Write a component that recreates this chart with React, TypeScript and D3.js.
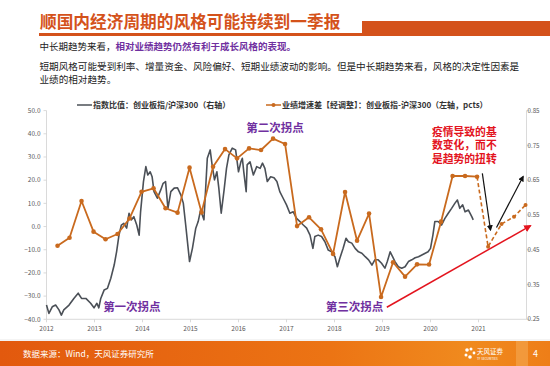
import React from 'react';
import * as d3 from 'd3';

const years = [2012, 2013, 2014, 2015, 2016, 2017, 2018, 2019, 2020, 2021];
const leftTicks = [50, 40, 30, 20, 10, 0, -10, -20, -30, -40];
const rightTicks = [0.85, 0.75, 0.65, 0.55, 0.45, 0.35, 0.25];

// 业绩增速差 (left axis, pcts), quarterly
const growthTimes = [
  2012.23, 2012.48, 2012.73, 2012.98, 2013.23, 2013.48, 2013.73, 2013.98,
  2014.23, 2014.48, 2014.73, 2014.98, 2015.23, 2015.47, 2015.72, 2015.97,
  2016.22, 2016.47, 2016.72, 2016.97, 2017.22, 2017.47, 2017.72, 2017.97,
  2018.22, 2018.47, 2018.72, 2018.97, 2019.22, 2019.47, 2019.72, 2019.97,
  2020.22, 2020.46, 2020.72, 2020.97, 2021.2, 2021.48, 2021.74, 2021.98,
];
const growthValues = [
  -8.3, -4.8, 11.0, -2.2, -5.5, -3.2, 3.5, 15.0,
  16.5, 7.9, 6.0, 25.4, 6.1, 25.8, 33.4, 29.4,
  33.7, 33.0, 37.9, 35.6, 0.2, 4.0, -1.2, -11.8,
  14.9, -6.1, 5.6, -30.4, -15.4, -21.6, -16.3, -16.4,
  2.1, 21.8, 21.8, 21.5, -8.7, 1.1, 4.2, 9.3,
];
const solidCount = 36; // last 4 quarters are forecasts (dashed)

// 指数比值: 创业板指/沪深300 (right axis)
const ratioTimes = [
  2012.0, 2012.05, 2012.12, 2012.19, 2012.26, 2012.31, 2012.36, 2012.47, 2012.57, 2012.66,
  2012.73, 2012.82, 2012.92, 2012.99, 2013.05, 2013.09, 2013.13, 2013.2, 2013.27, 2013.34,
  2013.41, 2013.46, 2013.51, 2013.56, 2013.61, 2013.67, 2013.72, 2013.77, 2013.82, 2013.88,
  2013.93, 2013.96, 2014.02, 2014.07, 2014.11, 2014.16, 2014.2, 2014.24, 2014.31, 2014.38,
  2014.43, 2014.48, 2014.53, 2014.59, 2014.66, 2014.73, 2014.8, 2014.85, 2014.9, 2014.98,
  2015.04, 2015.11, 2015.16, 2015.21, 2015.28, 2015.35, 2015.41, 2015.45, 2015.5, 2015.55,
  2015.59, 2015.64, 2015.7, 2015.75, 2015.8, 2015.87, 2015.94, 2016.0, 2016.05, 2016.08,
  2016.11, 2016.16, 2016.18, 2016.24, 2016.31, 2016.38, 2016.45, 2016.5, 2016.55, 2016.6,
  2016.67, 2016.74, 2016.8, 2016.86, 2016.93, 2017.0, 2017.07, 2017.14, 2017.21, 2017.28,
  2017.35, 2017.42, 2017.49, 2017.55, 2017.59, 2017.66, 2017.73, 2017.8, 2017.87, 2017.94,
  2018.01, 2018.06, 2018.11, 2018.18, 2018.24, 2018.29, 2018.36, 2018.43, 2018.5, 2018.57,
  2018.64, 2018.71, 2018.78, 2018.84, 2018.91, 2018.98, 2019.05, 2019.1, 2019.16, 2019.21,
  2019.26, 2019.33, 2019.4, 2019.47, 2019.54, 2019.61, 2019.68, 2019.75, 2019.82, 2019.89,
  2019.95, 2020.0, 2020.05, 2020.09, 2020.16, 2020.23, 2020.3, 2020.37, 2020.44, 2020.51,
  2020.56, 2020.61, 2020.67, 2020.72, 2020.79, 2020.86, 2020.89,
];
const ratioValues = [
  0.291, 0.267, 0.286, 0.291, 0.277, 0.262, 0.277, 0.291, 0.31, 0.325,
  0.31, 0.31, 0.296, 0.283, 0.296, 0.283, 0.31, 0.334, 0.339, 0.368,
  0.406, 0.444, 0.492, 0.521, 0.526, 0.512, 0.555, 0.536, 0.545, 0.521,
  0.492, 0.559, 0.646, 0.689, 0.665, 0.674, 0.66, 0.617, 0.598, 0.622,
  0.641, 0.646, 0.569, 0.617, 0.627, 0.628, 0.607, 0.584, 0.521, 0.416,
  0.454, 0.512, 0.531, 0.564, 0.536, 0.713, 0.737, 0.694, 0.651, 0.674,
  0.627, 0.555, 0.622, 0.684, 0.723, 0.742, 0.737, 0.674, 0.703, 0.713,
  0.674, 0.617, 0.694, 0.703, 0.665, 0.689, 0.684, 0.699, 0.684, 0.646,
  0.66, 0.657, 0.646, 0.617, 0.598, 0.579, 0.555, 0.559, 0.54, 0.531,
  0.521, 0.512, 0.492, 0.454, 0.488, 0.492, 0.488, 0.473, 0.449, 0.444,
  0.43, 0.401, 0.425, 0.454, 0.483, 0.473, 0.469, 0.454, 0.444, 0.44,
  0.43, 0.421, 0.406, 0.421, 0.421, 0.411, 0.397, 0.416, 0.444, 0.43,
  0.416, 0.401, 0.397, 0.401, 0.416, 0.421, 0.427, 0.43, 0.435, 0.44,
  0.444, 0.454, 0.492, 0.531, 0.531, 0.521, 0.54, 0.555, 0.569, 0.584,
  0.593, 0.569, 0.579, 0.559, 0.564, 0.545, 0.536,
];

const titleText = '顺国内经济周期的风格可能持续到一季报';
const legendRatio = '指数比值：创业板指/沪深300（右轴）';
const legendGrowth = '业绩增速差【经调整】：创业板指-沪深300（左轴，pcts）';
const redNote = ['疫情导致的基', '数变化，而不', '是趋势的扭转'];
const turnLabels = [
  { text: '第一次拐点', t: 2013.18, v: -34.7 },
  { text: '第二次拐点', t: 2016.16, v: 42.7 },
  { text: '第三次拐点', t: 2017.82, v: -34.6 },
];

const FONT = '"Noto Sans CJK SC", "Noto Sans", sans-serif';
const ORANGE = '#C96A1E';
const GRAY = '#4B5057';
const PURPLE = '#7030A0';
const RED = '#E3141E';

export default function App() {
  const x = d3.scaleLinear().domain([2012, 2022]).range([46.5, 526.5]);
  const yL = d3.scaleLinear().domain([-40, 50]).range([319.3, 110.6]);
  const yR = d3.scaleLinear().domain([0.25, 0.85]).range([319.3, 110.6]);

  const ratioLine = d3
    .line<number>()
    .x((_, i) => x(ratioTimes[i]))
    .y((d) => yR(d));
  const idx = growthValues.map((_, i) => i);
  const growthLine = d3
    .line<number>()
    .x((i) => x(growthTimes[i]))
    .y((i) => yL(growthValues[i]));
  const solidIdx = idx.slice(0, solidCount);
  const dashIdx = idx.slice(solidCount - 1);

  const arrows = [
    { t1: 2021.08, v1: 22.9, t2: 2021.25, v2: -1.5, color: '#111', m: 'ahBlack' },
    { t1: 2021.375, v1: -0.4, t2: 2021.93, v2: 21.6, color: '#111', m: 'ahBlack' },
    { t1: 2019.09, v1: -34.8, t2: 2022.08, v2: 0.3, color: RED, m: 'ahRed' },
  ];

  return (
    <svg
      width={550}
      height={366}
      style={{ position: 'absolute', left: 0, top: 0, background: '#fff' }}
      fontFamily={FONT}
    >
      <defs>
        <linearGradient id="foot" x1="0" x2="1" y1="0" y2="0">
          <stop offset="0%" stopColor="#E2590E" />
          <stop offset="60%" stopColor="#EC7414" />
          <stop offset="85%" stopColor="#F08A1E" />
          <stop offset="100%" stopColor="#EE7E18" />
        </linearGradient>
        <marker id="ahBlack" viewBox="0 0 10 10" refX="8" refY="5" markerWidth="5" markerHeight="5" orient="auto">
          <path d="M0,0 L10,5 L0,10 z" fill="#111" />
        </marker>
        <marker id="ahRed" viewBox="0 0 10 10" refX="8" refY="5" markerWidth="5" markerHeight="5" orient="auto">
          <path d="M0,0 L10,5 L0,10 z" fill={RED} />
        </marker>
      </defs>

      {/* Header */}
      <text x={40} y={28} fontSize={16.7} fontWeight="bold" fill="#D4521B">
        {titleText}
      </text>
      <rect x={39} y={33} width={324} height={3} fill="#D4521B" />
      <rect x={362} y={21} width={188} height={15} fill="#D4521B" />
      <text x={39.5} y={50} fontSize={9.5} fill="#222">
        中长期趋势来看，<tspan fill={PURPLE} fontWeight="bold">相对业绩趋势仍然有利于成长风格的表现。</tspan>
      </text>
      <text x={39.5} y={70} fontSize={9.6} fill="#222">
        短期风格可能受到利率、增量资金、风险偏好、短期业绩波动的影响。但是中长期趋势来看，风格的决定性因素是
      </text>
      <text x={39.5} y={82.5} fontSize={9.6} fill="#222">
        业绩的相对趋势。
      </text>

      {/* Legend */}
      <line x1={77} x2={92} y1={105} y2={105} stroke={GRAY} strokeWidth={1.5} />
      <text x={93} y={105} dy="0.35em" fontSize={8} fontWeight="bold" fill="#333">
        {legendRatio}
      </text>
      <line x1={266} x2={281} y1={105} y2={105} stroke={ORANGE} strokeWidth={1.5} />
      <circle cx={273.5} cy={105} r={2} fill={ORANGE} />
      <text x={282} y={105} dy="0.35em" fontSize={8} fontWeight="bold" fill="#333">
        {legendGrowth}
      </text>

      {/* Axes */}
      <line x1={x(2012)} x2={x(2012)} y1={yL(50)} y2={yL(-40)} stroke="#D0D0D0" strokeWidth={0.8} />
      <line x1={x(2022)} x2={x(2022)} y1={yR(0.85)} y2={yR(0.25)} stroke="#D0D0D0" strokeWidth={0.8} />
      <line x1={x(2012)} x2={x(2022)} y1={yL(-40)} y2={yL(-40)} stroke="#D0D0D0" strokeWidth={0.8} />
      {leftTicks.map((v) => (
        <g key={'l' + v}>
          <line x1={x(2012) - 3} x2={x(2012)} y1={yL(v)} y2={yL(v)} stroke="#D0D0D0" strokeWidth={0.8} />
          <text x={x(2012) - 6} y={yL(v)} dy="0.35em" textAnchor="end" fontSize={6.5} fill="#595959">
            {d3.format('.1f')(v)}
          </text>
        </g>
      ))}
      {rightTicks.map((v) => (
        <g key={'r' + v}>
          <line x1={x(2022)} x2={x(2022) + 3} y1={yR(v)} y2={yR(v)} stroke="#D0D0D0" strokeWidth={0.8} />
          <text x={x(2022) + 1} y={yR(v)} dy="0.35em" fontSize={6.2} fill="#595959">
            {d3.format('.2f')(v)}
          </text>
        </g>
      ))}
      {years.map((yr) => (
        <g key={'x' + yr}>
          <line x1={x(yr)} x2={x(yr)} y1={yL(-40)} y2={yL(-40) + 3} stroke="#D0D0D0" strokeWidth={0.8} />
          <text x={x(yr)} y={yL(-40) + 9} dy="0.35em" textAnchor="middle" fontSize={6.5} fill="#595959">
            {yr}
          </text>
        </g>
      ))}

      {/* Series */}
      <path d={ratioLine(ratioValues) || ''} fill="none" stroke={GRAY} strokeWidth={1.6} strokeLinejoin="round" />
      <path d={growthLine(solidIdx) || ''} fill="none" stroke={ORANGE} strokeWidth={1.8} strokeLinejoin="round" />
      <path d={growthLine(dashIdx) || ''} fill="none" stroke={ORANGE} strokeWidth={1.6} strokeDasharray="4,2.5" />
      {idx.map((i) => (
        <circle key={'c' + i} cx={x(growthTimes[i])} cy={yL(growthValues[i])} r={i >= solidCount ? 2 : 2.3} fill={ORANGE} />
      ))}

      {/* Arrows */}
      {arrows.map((a, i) => (
        <line
          key={'a' + i}
          x1={x(a.t1)}
          y1={yL(a.v1)}
          x2={x(a.t2)}
          y2={yL(a.v2)}
          stroke={a.color}
          strokeWidth={a.color === RED ? 1.5 : 1.2}
          markerEnd={`url(#${a.m})`}
        />
      ))}

      {/* Annotations */}
      {turnLabels.map((l) => (
        <text key={l.text} x={x(l.t)} y={yL(l.v)} dy="0.36em" fontSize={11.5} fontWeight="bold" fill={PURPLE}>
          {l.text}
        </text>
      ))}
      <text x={x(2020.03)} y={yL(40.9) + 4} fontSize={10.8} fontWeight="bold" fill={RED}>
        {redNote.map((s, i) => (
          <tspan key={s} x={x(2020.03)} dy={i === 0 ? 0 : 13.4}>
            {s}
          </tspan>
        ))}
      </text>

      {/* Footer */}
      <line x1={0} x2={550} y1={340} y2={340} stroke="#E8E8E8" strokeWidth={1} />
      <rect x={0} y={341} width={550} height={25} fill="url(#foot)" />
      <rect x={516} y={341} width={12} height={25} fill="#F3A24A" opacity={0.7} />
      <text x={23} y={354} dy="0.35em" fontSize={8.5} fill="#fff">
        数据来源：Wind，天风证券研究所
      </text>
      <g fill="#fff">
        <circle cx={467} cy={350} r={1.8} />
        <circle cx={471} cy={349} r={1.5} />
        <circle cx={466} cy={355} r={1.5} />
        <circle cx={470} cy={357} r={1.8} />
        <circle cx={474} cy={353} r={1.4} />
      </g>
      <text x={477} y={352} dy="0.35em" fontSize={6.5} fill="#fff">
        天风证券
      </text>
      <text x={477} y={358.5} dy="0.35em" fontSize={3} fill="#fff">
        TF SECURITIES
      </text>
      <text x={533} y={354} dy="0.35em" fontSize={9} fill="#fff">
        4
      </text>
    </svg>
  );
}
